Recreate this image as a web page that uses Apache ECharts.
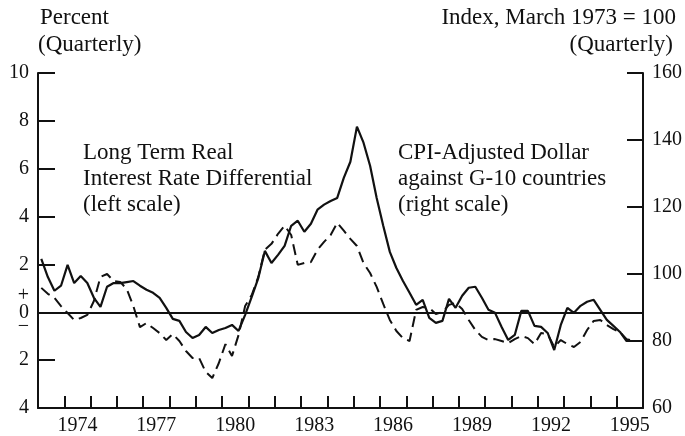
<!DOCTYPE html>
<html>
<head>
<meta charset="utf-8">
<script src="https://cdn.jsdelivr.net/npm/echarts@6/dist/echarts.min.js"></script>
<style>
html,body{margin:0;padding:0;background:#fff;}
#chart{width:685px;height:436px;}
</style>
</head>
<body>
<div id="chart"></div>
<script>
// Quarterly observations, 1973Q1 .. 1995Q4
const years = [1973,1974,1975,1976,1977,1978,1979,1980,1981,1982,1983,1984,1985,1986,1987,1988,1989,1990,1991,1992,1993,1994,1995];

// CPI-Adjusted Dollar against G-10 countries (right scale, index March 1973 = 100)
const dollarIndex = [
  104.5, 99.1, 95.0, 96.5, 102.7, 97.3, 99.4, 97.3, 92.9, 90.2,
  96.2, 97.3, 97.3, 97.6, 97.9, 96.5, 95.3, 94.4, 92.9, 89.9,
  86.6, 86.0, 82.7, 80.9, 81.8, 84.2, 82.4, 83.3, 83.9, 84.8,
  83.0, 87.8, 93.2, 98.8, 106.9, 103.3, 105.7, 108.4, 114.4, 115.9,
  112.6, 115.0, 119.2, 120.7, 121.8, 122.7, 128.7, 133.5, 144.0, 139.2,
  132.3, 122.7, 114.4, 106.6, 101.8, 97.9, 94.4, 90.8, 92.3, 86.9,
  85.4, 86.0, 92.6, 89.9, 93.5, 95.9, 96.2, 92.9, 89.3, 88.4,
  84.2, 80.3, 81.8, 89.0, 89.0, 84.5, 84.2, 82.4, 77.3, 84.8,
  89.9, 88.4, 90.5, 91.7, 92.3, 89.3, 86.3, 84.5, 82.7, 80.0,
  80.0, 80.0
];

// Long Term Real Interest Rate Differential (left scale, percent)
const rateDiff = [
  1.02, 0.77, 0.60, 0.26, -0.03, -0.32, -0.24, -0.11, 0.47, 1.48,
  1.60, 1.31, 1.27, 0.97, 0.26, -0.62, -0.45, -0.66, -0.87, -1.16,
  -0.91, -1.20, -1.62, -1.91, -1.91, -2.49, -2.75, -2.12, -1.33, -1.83,
  -0.95, 0.26, 0.72, 1.48, 2.61, 2.86, 3.28, 3.62, 3.23, 1.98,
  2.06, 2.10, 2.61, 2.94, 3.23, 3.74, 3.41, 3.07, 2.77, 2.06,
  1.64, 1.06, 0.35, -0.32, -0.78, -1.08, -1.20, 0.10, 0.22, 0.18,
  -0.07, 0.01, 0.31, 0.39, 0.14, -0.32, -0.74, -1.03, -1.16, -1.12,
  -1.20, -1.29, -1.12, -0.99, -1.08, -1.33, -0.87, -0.91, -1.45, -1.16,
  -1.33, -1.45, -1.24, -0.74, -0.36, -0.32, -0.53, -0.70, -0.83, -1.12,
  -1.20, -1.20
];

// Axis ticks and labels
const xTickYears = [1974,1975,1976,1977,1978,1979,1980,1981,1982,1983,1984,1985,1986,1987,1988,1989,1990,1991,1992,1993,1994,1995];
const xLabelYears = [1974,1977,1980,1983,1986,1989,1992,1995];
const leftLabelValues = [-4,-2,-0.62,0,0.68,2,4,6,8,10];
const leftLabelTexts  = ['4','2','\u2212','0','+','2','4','6','8','10'];
const leftTickValues = [-2,2,4,6,8,10];
const rightTickValues = [80,100,120,140,160];

// quarter positions (mid-quarter)
const quarterPos = [];
years.forEach(y => { for (let q = 0; q < 4; q++) quarterPos.push(y + (q + 0.5) / 4); });

const FONT = 'Liberation Serif';
const INK = '#111';
const TFONT = '23px "' + FONT + '"';

const chart = echarts.init(document.getElementById('chart'), null, {renderer: 'canvas'});

const option = {
  animation: false,
  backgroundColor: '#fff',
  grid: {left: 38, right: 42, top: 73, bottom: 28, containLabel: false, outerBoundsMode: 'none'},
  xAxis: {
    type: 'value', min: 1973, max: 1996,
    axisLine: {show: true, onZero: false, lineStyle: {color: INK, width: 2}},
    axisTick: {show: true, inside: true, length: 12, customValues: xTickYears, lineStyle: {color: INK, width: 2}},
    axisLabel: {
      show: true, customValues: xLabelYears.map(y => y + 0.5),
      formatter: v => String(Math.floor(v)),
      color: INK, fontFamily: FONT, fontSize: 20, margin: 8
    },
    splitLine: {show: false}
  },
  yAxis: [
    {
      type: 'value', position: 'left', min: -4, max: 10, interval: 2,
      axisLine: {show: true, onZero: false, lineStyle: {color: INK, width: 2}},
      axisTick: {show: true, inside: true, length: 17, customValues: leftTickValues, lineStyle: {color: INK, width: 2}},
      axisLabel: {
        show: true, customValues: leftLabelValues,
        formatter: v => {
          const k = leftLabelValues.findIndex(x => Math.abs(x - v) < 1e-6);
          return k >= 0 ? leftLabelTexts[k] : '';
        },
        color: INK, fontFamily: FONT, fontSize: 20, margin: 9
      },
      splitLine: {show: false}
    },
    {
      type: 'value', position: 'right', min: 60, max: 160, interval: 20,
      axisLine: {show: true, onZero: false, lineStyle: {color: INK, width: 2}},
      axisTick: {show: true, inside: true, length: 16, customValues: rightTickValues, lineStyle: {color: INK, width: 2}},
      axisLabel: {show: true, color: INK, fontFamily: FONT, fontSize: 20, margin: 9},
      splitLine: {show: false}
    }
  ],
  series: [
    {
      name: 'Long Term Real Interest Rate Differential',
      type: 'line', yAxisIndex: 0,
      data: rateDiff.map((v, i) => [quarterPos[i], v]),
      showSymbol: false, symbol: 'none',
      lineStyle: {color: INK, width: 2, type: [11, 6]},
      markLine: {
        silent: true, symbol: 'none', label: {show: false},
        lineStyle: {color: INK, width: 2, type: 'solid'},
        data: [{yAxis: 0}]
      },
      z: 3
    },
    {
      name: 'CPI-Adjusted Dollar',
      type: 'line', yAxisIndex: 1,
      data: dollarIndex.map((v, i) => [quarterPos[i], v]),
      showSymbol: false, symbol: 'none',
      lineStyle: {color: INK, width: 2.2, type: 'solid'},
      z: 4
    }
  ],
  graphic: [
    {type: 'text', left: 40, top: 6, style: {text: 'Percent', font: TFONT, fill: INK}},
    {type: 'text', left: 38, top: 33, style: {text: '(Quarterly)', font: TFONT, fill: INK}},
    {type: 'text', right: 9, top: 6, style: {text: 'Index, March 1973 = 100', font: TFONT, fill: INK}},
    {type: 'text', right: 12, top: 33, style: {text: '(Quarterly)', font: TFONT, fill: INK}},
    {type: 'text', left: 83, top: 141, style: {text: 'Long Term Real', font: TFONT, fill: INK}},
    {type: 'text', left: 83, top: 167, style: {text: 'Interest Rate Differential', font: TFONT, fill: INK}},
    {type: 'text', left: 83, top: 193, style: {text: '(left scale)', font: TFONT, fill: INK}},
    {type: 'text', left: 398, top: 141, style: {text: 'CPI-Adjusted Dollar', font: TFONT, fill: INK}},
    {type: 'text', left: 398, top: 167, style: {text: 'against G-10 countries', font: TFONT, fill: INK}},
    {type: 'text', left: 398, top: 193, style: {text: '(right scale)', font: TFONT, fill: INK}}
  ]
};

chart.setOption(option);
</script>
</body>
</html>
